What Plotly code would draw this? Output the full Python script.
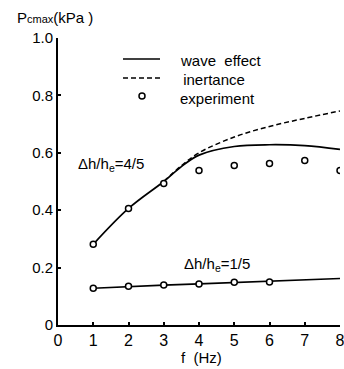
import plotly.graph_objects as go

# data
f_exp = [1, 2, 3, 4, 5, 6, 7, 8]
exp_45 = [0.281, 0.406, 0.493, 0.538, 0.556, 0.563, 0.573, 0.538]
f_wave = [1, 2, 3, 3.5, 4, 5, 6, 7, 8]
wave_45 = [0.281, 0.406, 0.500, 0.552, 0.592, 0.622, 0.628, 0.625, 0.612]
f_inert = [3, 3.5, 4, 5, 6, 7, 8]
inert_45 = [0.500, 0.555, 0.600, 0.655, 0.692, 0.720, 0.746]
f_exp15 = [1, 2, 3, 4, 5, 6]
exp_15 = [0.128, 0.135, 0.139, 0.143, 0.149, 0.150]
f_line15 = [1, 2, 3, 4, 5, 6, 7, 8]
line_15 = [0.128, 0.134, 0.139, 0.143, 0.148, 0.152, 0.157, 0.162]

xticks = [0, 1, 2, 3, 4, 5, 6, 7, 8]
yticks = [0, 0.2, 0.4, 0.6, 0.8, 1.0]
yticktext = ["0", "0.2", "0.4", "0.6", "0.8", "1.0"]

FONT = "Liberation Sans, Arial, sans-serif"
W, H = 344, 369
L, T, R, B = 58, 38, 4, 44
PW, PH = W - L - R, H - T - B


def px_to_xp(px):
    return (px - L) / PW


def px_to_x(px):
    return px_to_xp(px) * 8


def px_to_y(py):
    return (H - B - py) / PH


fig = go.Figure()
fig.add_trace(go.Scatter(x=f_wave, y=wave_45, mode="lines", line=dict(color="black", width=1.7, shape="spline"), showlegend=False))
fig.add_trace(go.Scatter(x=f_inert, y=inert_45, mode="lines", line=dict(color="black", width=1.5, dash="5px,3px", shape="spline"), showlegend=False))
fig.add_trace(go.Scatter(x=f_line15, y=line_15, mode="lines", line=dict(color="black", width=1.7), showlegend=False))
fig.add_trace(go.Scatter(x=f_exp, y=exp_45, mode="markers", marker=dict(symbol="circle", size=6, color="white", line=dict(width=1.5, color="black")), showlegend=False))
fig.add_trace(go.Scatter(x=f_exp15, y=exp_15, mode="markers", marker=dict(symbol="circle", size=6, color="white", line=dict(width=1.5, color="black")), showlegend=False))

# legend drawn manually
fig.add_shape(type="line", xref="paper", yref="paper", x0=px_to_xp(123), x1=px_to_xp(160), y0=px_to_y(59), y1=px_to_y(59), line=dict(color="black", width=1.7))
fig.add_shape(type="line", xref="paper", yref="paper", x0=px_to_xp(123), x1=px_to_xp(160), y0=px_to_y(78), y1=px_to_y(78), line=dict(color="black", width=1.5, dash="5px,3px"))
fig.add_trace(go.Scatter(x=[px_to_x(142)], y=[px_to_y(96)], mode="markers", marker=dict(symbol="circle", size=6, color="white", line=dict(width=1.5, color="black")), showlegend=False))

ann = [
    dict(text="wave  effect", x=px_to_x(178), y=px_to_y(60), size=15),
    dict(text=" inertance", x=px_to_x(177), y=px_to_y(79), size=15),
    dict(text="experiment", x=px_to_x(178), y=px_to_y(98), size=15),
    dict(text="Δh/h<sub>e</sub>=4/5", x=px_to_x(76), y=px_to_y(164), size=15),
    dict(text="Δh/h<sub>e</sub>=1/5", x=px_to_x(182), y=px_to_y(264), size=15),
]
for a in ann:
    fig.add_annotation(x=a["x"], y=a["y"], text=a["text"], showarrow=False, xanchor="left", yanchor="middle",
                       font=dict(family=FONT, size=a["size"], color="black"))

fig.add_annotation(xref="paper", yref="paper", x=px_to_xp(15), y=px_to_y(18), xanchor="left", yanchor="middle",
                   text="P<span style='font-size:11px'>cmax</span>(kPa )", showarrow=False,
                   font=dict(family=FONT, size=15, color="black"))
fig.add_annotation(xref="paper", yref="paper", x=px_to_xp(201), y=px_to_y(357), xanchor="center", yanchor="middle",
                   text="f  (Hz)", showarrow=False, font=dict(family=FONT, size=15, color="black"))

fig.update_layout(
    template="none",
    width=W, height=H,
    margin=dict(l=L, r=R, t=T, b=B),
    plot_bgcolor="white", paper_bgcolor="white",
    font=dict(family=FONT, size=14, color="black"),
    xaxis=dict(range=[0, 8], tickvals=xticks, ticks="inside", ticklen=3, tickwidth=1.5, tickcolor="black",
               showline=True, linecolor="black", linewidth=2, showgrid=False, zeroline=False,
               automargin=False, ticklabeloverflow="allow", tickfont=dict(size=16)),
    yaxis=dict(range=[0, 1.0], tickvals=yticks, ticktext=yticktext, ticks="inside", ticklen=3, tickwidth=1.5,
               tickcolor="black", showline=True, linecolor="black", linewidth=2, showgrid=False, zeroline=False,
               automargin=False, ticklabeloverflow="allow", tickfont=dict(size=15)),
)
fig.write_html("out.html", config={"displayModeBar": False},
               post_script="document.body.style.margin='0';document.body.style.overflow='hidden';")
